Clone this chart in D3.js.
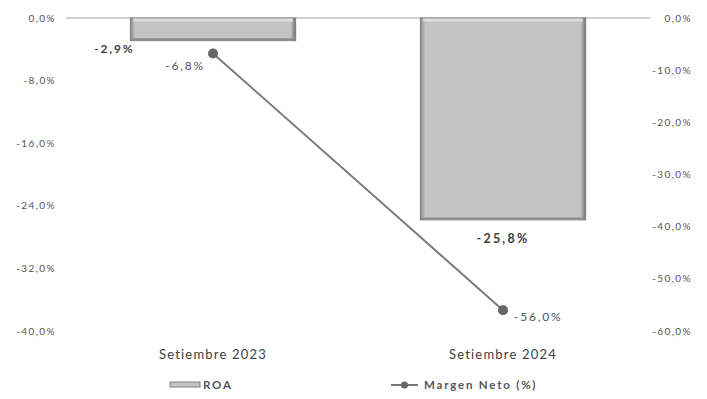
<!DOCTYPE html>
<html>
<head>
<meta charset="utf-8">
<script src="https://cdn.jsdelivr.net/npm/d3@7"></script>
<style>
  body { margin: 0; background: #fff; }
  text { font-family: Lato, "Open Sans", sans-serif; }
</style>
</head>
<body>
<div id="chart"></div>
<script>
const categories = ["Setiembre 2023", "Setiembre 2024"];
const roa = [-2.9, -25.8];
const margenNeto = [-6.8, -56.0];
const leftTicks = [0, -8, -16, -24, -32, -40];
const rightTicks = [0, -10, -20, -30, -40, -50, -60];

const width = 707, height = 399;
const fmt = v => d3.format(".1f")(v).replace("−", "-").replace(".", ",") + "%";

const svg = d3.select("#chart").append("svg")
  .attr("width", width).attr("height", height);

const x = d3.scaleBand().domain(categories).range([68, 648]).paddingInner(0.43).paddingOuter(0.215);
const yL = d3.scaleLinear().domain([-40, 0]).range([331, 18]);
const yR = d3.scaleLinear().domain([-60, 0]).range([331, 18]);
const xc = c => x(c) + x.bandwidth() / 2;

// zero line
svg.append("line")
  .attr("x1", 66).attr("x2", 650)
  .attr("y1", yL(0)).attr("y2", yL(0))
  .attr("stroke", "#d0d0d0").attr("stroke-width", 2);

// left axis labels
svg.append("g").selectAll("text").data(leftTicks).enter().append("text")
  .attr("x", 56).attr("y", d => yL(d) + 3.5)
  .attr("text-anchor", "end").attr("font-size", 10).attr("letter-spacing", 1.4).attr("fill", "#555")
  .text(d => fmt(d));

// right axis labels
svg.append("g").selectAll("text").data(rightTicks).enter().append("text")
  .attr("x", 692).attr("y", d => yR(d) + 3.5)
  .attr("text-anchor", "end").attr("font-size", 10).attr("letter-spacing", 1.4).attr("fill", "#555")
  .text(d => fmt(d));

// bars with a soft bevel
const defs = svg.append("defs");
const grad = defs.append("linearGradient").attr("id", "barGrad").attr("x1", 0).attr("x2", 1);
[[0, "#8a8a8a"], [0.03, "#c4c4c4"], [0.97, "#c4c4c4"], [1, "#6e6e6e"]].forEach(([o, c]) =>
  grad.append("stop").attr("offset", o).attr("stop-color", c));

const bars = svg.append("g").selectAll("g").data(categories).enter().append("g");
bars.append("rect")
  .attr("x", d => x(d))
  .attr("y", yL(0))
  .attr("width", x.bandwidth())
  .attr("height", (d, i) => yL(roa[i]) - yL(0))
  .attr("fill", "url(#barGrad)")
  .attr("stroke", "#808080").attr("stroke-width", 1);
bars.append("line")
  .attr("x1", d => x(d) + 3).attr("x2", d => x(d) + x.bandwidth() - 3)
  .attr("y1", yL(0) + 2).attr("y2", yL(0) + 2)
  .attr("stroke", "#dcdcdc").attr("stroke-width", 3);
bars.append("line")
  .attr("x1", d => x(d) + 1).attr("x2", d => x(d) + x.bandwidth() - 1)
  .attr("y1", (d, i) => yL(roa[i]) - 1.5).attr("y2", (d, i) => yL(roa[i]) - 1.5)
  .attr("stroke", "#8c8c8c").attr("stroke-width", 2);

// ROA labels
svg.append("text")
  .attr("x", x(categories[0]) - 16).attr("y", yL(roa[0]) + 12)
  .attr("text-anchor", "middle").attr("font-size", 12).attr("letter-spacing", 1.8)
  .attr("font-weight", "bold").attr("fill", "#404040")
  .text(fmt(roa[0]));
svg.append("text")
  .attr("x", xc(categories[1])).attr("y", yL(roa[1]) + 23)
  .attr("text-anchor", "middle").attr("font-size", 12.5).attr("letter-spacing", 2.2)
  .attr("font-weight", "bold").attr("fill", "#404040")
  .text(fmt(roa[1]));

// Margen Neto line
const line = d3.line().x((d, i) => xc(categories[i])).y(d => yR(d));
svg.append("path").datum(margenNeto)
  .attr("d", line).attr("fill", "none")
  .attr("stroke", "#7a7a7a").attr("stroke-width", 2);
svg.append("g").selectAll("circle").data(margenNeto).enter().append("circle")
  .attr("cx", (d, i) => xc(categories[i])).attr("cy", d => yR(d))
  .attr("r", 5).attr("fill", "#666");
svg.append("text")
  .attr("x", xc(categories[0]) - 8).attr("y", yR(margenNeto[0]) + 17)
  .attr("text-anchor", "end").attr("font-size", 12).attr("letter-spacing", 1.8).attr("fill", "#555")
  .text(fmt(margenNeto[0]));
svg.append("text")
  .attr("x", xc(categories[1]) + 11).attr("y", yR(margenNeto[1]) + 11)
  .attr("text-anchor", "start").attr("font-size", 12).attr("letter-spacing", 1.8).attr("fill", "#555")
  .text(fmt(margenNeto[1]));

// category labels
svg.append("g").selectAll("text").data(categories).enter().append("text")
  .attr("x", d => xc(d)).attr("y", 359)
  .attr("text-anchor", "middle").attr("font-size", 13).attr("letter-spacing", 1.2).attr("fill", "#404040")
  .text(d => d);

// legend
const lg = svg.append("g");
lg.append("rect").attr("x", 170).attr("y", 382).attr("width", 30).attr("height", 5)
  .attr("fill", "#c4c4c4").attr("stroke", "#808080");
lg.append("text").attr("x", 203).attr("y", 389).attr("font-size", 11.5).attr("letter-spacing", 1.8)
  .attr("font-weight", "bold").attr("fill", "#555").text("ROA");
lg.append("line").attr("x1", 391).attr("x2", 418).attr("y1", 385).attr("y2", 385)
  .attr("stroke", "#7a7a7a").attr("stroke-width", 2);
lg.append("circle").attr("cx", 404.5).attr("cy", 385).attr("r", 3.5).attr("fill", "#666");
lg.append("text").attr("x", 424).attr("y", 389).attr("font-size", 11.5).attr("letter-spacing", 1.8)
  .attr("font-weight", "bold").attr("fill", "#555").text("Margen Neto (%)");
</script>
</body>
</html>
